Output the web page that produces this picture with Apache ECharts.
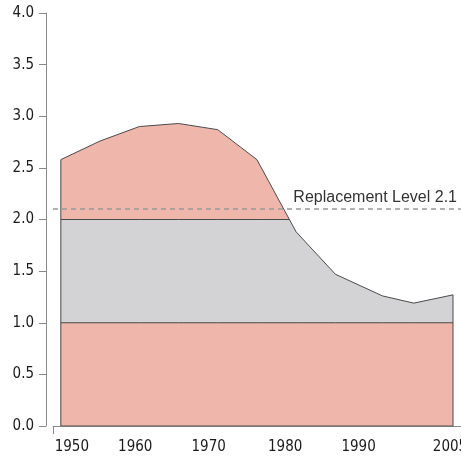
<!DOCTYPE html>
<html>
<head>
    <meta charset="UTF-8">
    <title>Total fertility rate</title>
    <style>
        html, body { margin: 0; padding: 0; background: #fff; }
        #chart { width: 461px; height: 456px; }
    </style>
</head>
<body>
<div id="chart"></div>
<script src="https://cdn.jsdelivr.net/npm/echarts@6/dist/echarts.min.js"></script>
<script>
// data
const years = [1950, 1955, 1960, 1965, 1970, 1975, 1980, 1985, 1991, 1995, 2000];
const fertility = [2.58, 2.76, 2.90, 2.93, 2.87, 2.58, 1.88, 1.47, 1.26, 1.19, 1.27];
const bandTop = [2, 2, 2, 2, 2, 2, 2, 2, 2, 2, 2];
const bandBottom = [1, 1, 1, 1, 1, 1, 1, 1, 1, 1, 1];
const replacementLevel = 2.1;
const xTickYears = [1950, 1960, 1970, 1980, 1990, 2000];
const xTickLabels = ['1950', '1960', '1970', '1980', '1990', '2005'];

// styling
const pink = '#efb6ab';
const grey = '#d3d3d5';
const edge = '#4a4a4a';
const axisGrey = '#8a8a8a';
const narrow = "'Liberation Sans Narrow', 'DejaVu Sans Condensed', sans-serif";
const labelShift = [11, -4, -9, -11, -16, -3];

const pairs = (xs, ys) => xs.map((x, i) => [x, ys[i]]);

// closed outline: left edge, curve, right edge, bottom
const outline = [[years[0], 0]].concat(pairs(years, fertility), [[years[years.length - 1], 0], [years[0], 0]]);

const rich = {};
labelShift.forEach((s, i) => {
    rich['s' + i] = {
        fontFamily: narrow,
        fontSize: 15,
        color: '#1a1a1a',
        padding: s > 0 ? [0, 0, 0, 2 * s] : [0, -2 * s, 0, 0]
    };
});

const chart = echarts.init(document.getElementById('chart'));
const option = {
    animation: false,
    grid: { left: 53, right: 0, top: 13, bottom: 30, outerBoundsMode: 'none', containLabel: false },
    xAxis: {
        type: 'value',
        min: 1949,
        max: 2001.02,
        offset: 9,
        splitLine: { show: false },
        axisLine: { lineStyle: { color: axisGrey, width: 1 } },
        axisTick: { customValues: [1949], length: 8, lineStyle: { color: axisGrey } },
        axisLabel: {
            customValues: xTickYears,
            margin: 5,
            formatter: (v) => {
                const i = xTickYears.indexOf(v);
                return '{s' + i + '|' + xTickLabels[i] + '}';
            },
            rich: rich
        }
    },
    yAxis: {
        type: 'value',
        min: 0,
        max: 4,
        interval: 0.5,
        offset: 7,
        splitLine: { show: false },
        axisLine: { show: true, lineStyle: { color: axisGrey, width: 1 } },
        axisTick: { show: true, length: 7, lineStyle: { color: axisGrey } },
        axisLabel: {
            margin: 12,
            fontFamily: narrow,
            fontSize: 15,
            color: '#1a1a1a',
            formatter: (v) => v.toFixed(1)
        }
    },
    series: [
        {
            name: 'fertility',
            type: 'line',
            z: 1,
            data: pairs(years, fertility),
            symbol: 'none',
            lineStyle: { width: 0 },
            areaStyle: { color: pink, opacity: 1 }
        },
        {
            name: 'band',
            type: 'line',
            z: 2,
            data: pairs(years, bandTop),
            symbol: 'none',
            lineStyle: { color: edge, width: 1 },
            areaStyle: { color: grey, opacity: 1 }
        },
        {
            name: 'base',
            type: 'line',
            z: 3,
            data: pairs(years, bandBottom),
            symbol: 'none',
            lineStyle: { color: edge, width: 1 },
            areaStyle: { color: pink, opacity: 1 }
        },
        {
            name: 'cover',
            type: 'line',
            z: 4,
            data: pairs(years, fertility),
            symbol: 'none',
            lineStyle: { width: 0 },
            areaStyle: { color: '#fff', opacity: 1, origin: 'end' }
        },
        {
            name: 'outline',
            type: 'line',
            z: 5,
            data: outline,
            symbol: 'none',
            lineStyle: { color: edge, width: 1 },
            markLine: {
                silent: true,
                symbol: 'none',
                lineStyle: { color: '#999', type: [5, 4], width: 1.5 },
                label: {
                    position: 'insideEndTop',
                    distance: [4, 4],
                    formatter: 'Replacement Level ' + replacementLevel,
                    fontFamily: "'Liberation Sans', Arial, sans-serif",
                    fontSize: 16,
                    color: '#333'
                },
                data: [{ yAxis: replacementLevel }]
            }
        }
    ]
};
chart.setOption(option);
</script>
</body>
</html>
